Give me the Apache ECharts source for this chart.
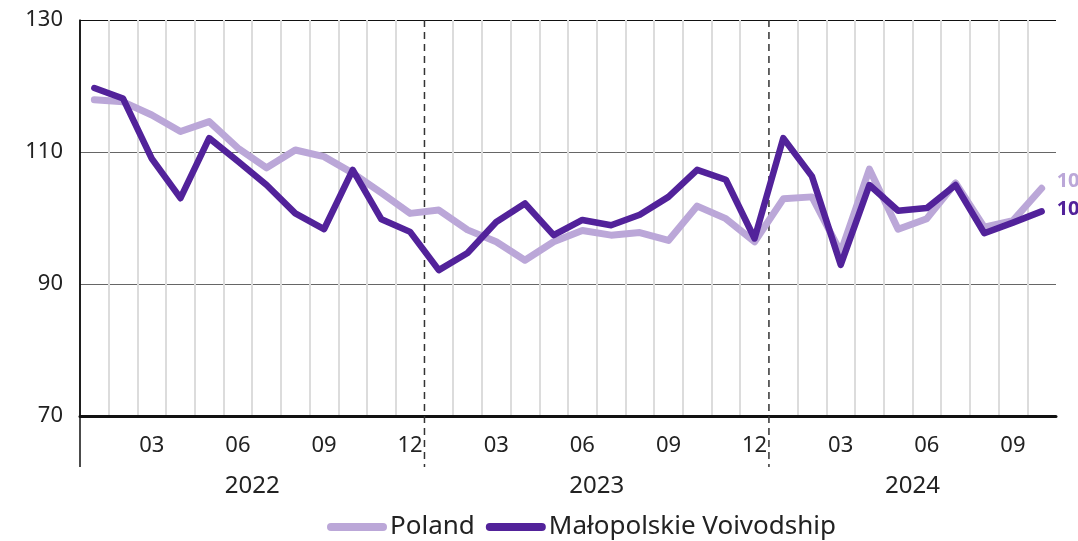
<!DOCTYPE html>
<html><head><meta charset="utf-8">
<script src="https://cdn.jsdelivr.net/npm/echarts@6/dist/echarts.min.js"></script>
<style>html,body{margin:0;padding:0;background:#fff}#c{width:1078px;height:541px}</style>
</head><body><div id="c"></div>
<script>
const months = [
  '2022-01','2022-02','2022-03','2022-04','2022-05','2022-06','2022-07','2022-08','2022-09','2022-10','2022-11','2022-12',
  '2023-01','2023-02','2023-03','2023-04','2023-05','2023-06','2023-07','2023-08','2023-09','2023-10','2023-11','2023-12',
  '2024-01','2024-02','2024-03','2024-04','2024-05','2024-06','2024-07','2024-08','2024-09','2024-10'
];
const poland = [
  117.9, 117.6, 115.6, 113.1, 114.6, 110.6, 107.6, 110.3, 109.3, 106.8, 103.8, 100.7,
  101.2, 98.2, 96.4, 93.6, 96.4, 98.1, 97.4, 97.8, 96.6, 101.8, 99.9, 96.4,
  102.9, 103.2, 94.8, 107.4, 98.3, 99.9, 105.3, 98.6, 99.6, 104.5
];
const malopolskie = [
  119.7, 118.1, 109.0, 103.0, 112.1, 108.6, 105.0, 100.7, 98.3, 107.3, 99.8, 97.9,
  92.1, 94.7, 99.4, 102.2, 97.4, 99.7, 98.9, 100.5, 103.2, 107.3, 105.8, 96.9,
  112.1, 106.3, 92.9, 105.0, 101.1, 101.5, 105.0, 97.7, 99.3, 101.0
];
const seriesNames = ['Poland', 'Małopolskie Voivodship'];
const yTickLabels = [70, 90, 110, 130];
const monthTickLabels = ['03', '06', '09', '12'];

const FONT = 'Noto Sans';
const TXT = '#222';
const chart = echarts.init(document.getElementById('c'));

// year spans
const years = [];
months.forEach((m, i) => {
  const y = m.slice(0, 4);
  let e = years.find(o => o.y === y);
  if (!e) { e = { y, first: i, last: i }; years.push(e); }
  e.last = i;
});
const yearLabelIdx = {};
years.forEach(e => { yearLabelIdx[Math.floor((e.first + e.last) / 2)] = { y: e.y, half: (e.first + e.last) % 2 === 1 }; });

const gridLeft = 80, gridRight = 22, gridTop = 20, gridBottom = 125;
const band = (1078 - gridLeft - gridRight) / months.length;

// vertical month split-line colours: hide axis edges and year boundaries (drawn dashed)
const vColors = [];
for (let k = 0; k <= months.length; k++) {
  const hide = k === 0 || k === months.length || months[k].slice(5) === '01';
  vColors.push(hide ? 'rgba(0,0,0,0)' : '#dcdcdc');
}
// horizontal split-line colours: 70..130 step 10
const hColors = [];
for (let v = 70; v <= 130; v += 10) {
  hColors.push(yTickLabels.indexOf(v) < 0 ? 'rgba(0,0,0,0)' : (v === 130 ? '#111' : '#666'));
}

const option = {
  backgroundColor: '#fff',
  animation: false,
  color: ['#bba7d8', '#52229a'],
  textStyle: { fontFamily: FONT },
  grid: { left: gridLeft, right: gridRight, top: gridTop, bottom: gridBottom, containLabel: false },
  legend: {
    data: seriesNames,
    top: 509,
    left: 322,
    icon: 'path://M4,0 L56,0 A4,4 0 0 1 56,8 L4,8 A4,4 0 0 1 4,0 Z',
    itemWidth: 60, itemHeight: 8, itemGap: 11,
    textStyle: { fontFamily: FONT, fontSize: 26, color: TXT, padding: [0, 0, 0, -2] }
  },
  xAxis: [{
    type: 'category',
    data: months,
    boundaryGap: true,
    axisLine: { show: true, lineStyle: { color: '#111', width: 3 } },
    axisTick: { show: false },
    splitLine: { show: true, interval: 0, lineStyle: { color: vColors, width: 2 } },
    axisLabel: {
      interval: (i, v) => monthTickLabels.indexOf(v.slice(5)) >= 0,
      formatter: v => v.slice(5),
      fontFamily: FONT, fontSize: 22, color: TXT, margin: 19
    }
  }, {
    type: 'category',
    data: months,
    position: 'bottom',
    offset: 46,
    boundaryGap: true,
    axisLine: { show: false },
    axisTick: { show: false },
    splitLine: { show: false },
    axisLabel: {
      interval: (i) => yearLabelIdx[i] !== undefined,
      formatter: (v, i) => yearLabelIdx[i] ? yearLabelIdx[i].y : '',
      padding: [0, 0, 0, band],
      fontFamily: FONT, fontSize: 24, color: TXT, margin: 12
    }
  }],
  yAxis: {
    type: 'value',
    min: 70, max: 130, interval: 10,
    axisLine: { show: true, lineStyle: { color: '#111', width: 1.5 } },
    axisTick: { show: false },
    splitLine: { show: true, lineStyle: { color: hColors, width: 1.2 } },
    axisLabel: {
      formatter: v => yTickLabels.indexOf(v) >= 0 ? String(v) : '',
      fontFamily: FONT, fontSize: 22, color: TXT, margin: 17
    }
  },
  series: [{
    name: seriesNames[0], type: 'line', data: poland, symbol: 'none', z: 3,
    lineStyle: { width: 7, color: '#bba7d8', cap: 'round', join: 'round' },
    endLabel: { show: true, formatter: p => p.value.toFixed(1), fontFamily: FONT, fontSize: 20, fontWeight: 'bold', color: '#bba7d8', distance: 15, offset: [0, -7] }
  }, {
    name: seriesNames[1], type: 'line', data: malopolskie, symbol: 'none', z: 4,
    lineStyle: { width: 6.5, color: '#52229a', cap: 'round', join: 'round' },
    endLabel: { show: true, formatter: p => p.value.toFixed(1), fontFamily: FONT, fontSize: 20, fontWeight: 'bold', color: '#52229a', distance: 15, offset: [0, -2] }
  }]
};
chart.setOption(option);

// separators: left edge (solid) and year boundaries (dashed), extended below axis
const px = i => chart.convertToPixel({ xAxisIndex: 0 }, months[i]);
const yTop = chart.convertToPixel({ yAxisIndex: 0 }, 130);
const yBot = chart.convertToPixel({ yAxisIndex: 0 }, 70) + 51;
const seps = [];
const leftX = px(0) - (px(1) - px(0)) / 2;
seps.push({ type: 'line', shape: { x1: leftX, y1: yTop, x2: leftX, y2: yBot }, style: { stroke: '#111', lineWidth: 1.5 }, z: 10 });
years.forEach(e => {
  if (e.first === 0) return;
  const x = (px(e.first - 1) + px(e.first)) / 2;
  seps.push({ type: 'line', shape: { x1: x, y1: yTop, x2: x, y2: yBot }, style: { stroke: '#333', lineWidth: 1.5, lineDash: [7, 5] }, z: 1 });
});
chart.setOption({ graphic: seps });
</script>
</body></html>
